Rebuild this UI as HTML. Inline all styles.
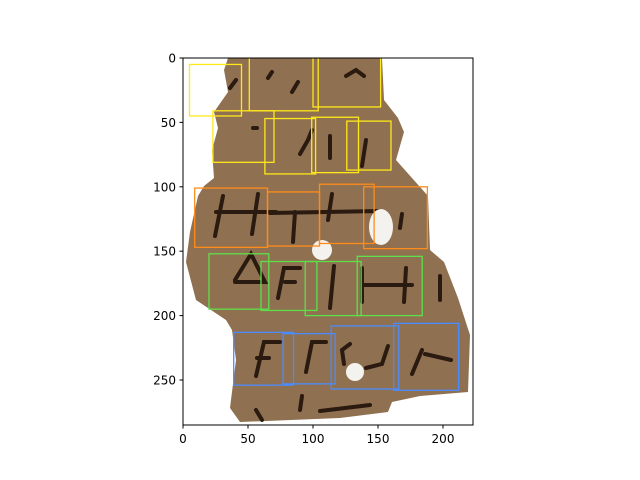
<!DOCTYPE html>
<html><head><meta charset="utf-8">
<style>
html,body{margin:0;padding:0;background:#fff;}
svg{display:block;font-family:"DejaVu Sans","Liberation Sans",sans-serif;}
</style></head>
<body>
<svg id="chart" width="640" height="480" viewBox="0 0 640 480">
<defs><clipPath id="plotclip"><rect x="183" y="58" width="290" height="367"/></clipPath></defs>
<g id="img" clip-path="url(#plotclip)">
<polygon fill="#8f7050" points="228,58 382,58 384,100 398,118 404,132 396,160 412,178 428,196 430,250 444,262 458,298 470,335 468,392 420,396 392,402 388,412 340,418 240,422 230,408 236,360 232,330 226,320 196,300 186,262 190,232 198,196 204,186 214,178 212,150 218,128 214,112 228,92 224,70"/>
<g fill="none" stroke="#2a1a10" stroke-linecap="round" stroke-width="4">
<path d="M230,88 l6,-8 M268,78 l4,-6 M292,92 l6,-10 M346,76 l10,-6 l8,6 M253,128 l4,0 M300,154 l8,-14 l4,-10 M330,158 l0,-22 M362,166 l4,-26 M215,236 l8,-40 M216,212 l60,0 M252,234 l6,-40 M270,213 l110,-2 M293,242 l2,-30 M328,220 l4,-26 M400,228 l2,-14 M235,280 l16,-26 l14,28 l-30,0 M278,298 l6,-30 l16,0 M285,282 l10,0 M330,308 l4,-42 M362,302 l0,-34 M404,302 l2,-34 M362,285 l50,0 M440,300 l0,-24 M256,376 l8,-34 l16,0 M257,358 l12,0 M306,372 l6,-30 l14,0 M344,364 l-2,-14 l8,-6 M366,368 l16,-4 l6,-18 M412,374 l10,-24 M425,354 l26,6 M262,420 l-6,-10 M300,410 l2,-14 M320,411 l50,-6"/>
</g>
<circle cx="322" cy="250" r="10" fill="#f4f2ee"/>
<ellipse cx="381" cy="227" rx="12" ry="18" fill="#f4f2ee"/>
<circle cx="355" cy="372" r="9" fill="#f4f2ee"/>
</g>
<g id="boxes" clip-path="url(#plotclip)"></g>
<rect x="183" y="58" width="290" height="367" fill="none" stroke="#000" stroke-width="1"/>
<g id="xaxis"></g>
<g id="yaxis"></g>
</svg>
<script>
const xTicks=[0,50,100,150,200];
const yTicks=[0,50,100,150,200,250];
const yellowBoxes=[[5,45,5,45],[51,104,-5,41],[100,152,-5,38],[23,70,41,81],[63,102,47,90],[99,135,46,89],[126,160,49,87]];
const orangeBoxes=[[9,65,101,147],[65,105,104,146],[105,147,98,144],[139,188,100,148]];
const greenBoxes=[[20,66,152,195],[60,103,158,196],[94,137,158,200],[134,184,154,200]];
const blueBoxes=[[39,85,213,254],[77,117,214,253],[114,166,208,257],[162,212,206,258]];
const X0=183,XS=1.3,Y0=58,YS=1.288;
function sx(v){return X0+v*XS;}
function sy(v){return Y0+v*YS;}
const NS="http://www.w3.org/2000/svg";
function mk(t,a){const e=document.createElementNS(NS,t);for(const k in a)e.setAttribute(k,a[k]);return e;}
const bg=document.getElementById('boxes');
function drawBoxes(arr,color,name){
 arr.forEach((b,i)=>{
  const r=mk('rect',{x:sx(b[0]),y:sy(b[2]),width:(b[1]-b[0])*XS,height:(b[3]-b[2])*YS,fill:'none',stroke:color,'stroke-width':1.3});
  
  
  bg.appendChild(r);
 });
}
drawBoxes(yellowBoxes,'#ffe81a','yellow');
drawBoxes(orangeBoxes,'#ff8c1a','orange');
drawBoxes(greenBoxes,'#5ee04a','green');
drawBoxes(blueBoxes,'#4a8cff','blue');
const xa=document.getElementById('xaxis');
xTicks.forEach(v=>{
 const l=mk('line',{x1:sx(v),x2:sx(v),y1:425,y2:428.5,stroke:'#000'});
 
 
 xa.appendChild(l);
 const t=mk('text',{x:sx(v),y:443,'text-anchor':'middle','font-size':12});
 
 
 t.textContent=v;xa.appendChild(t);
});
const ya=document.getElementById('yaxis');
yTicks.forEach(v=>{
 const l=mk('line',{x1:179.5,x2:183,y1:sy(v),y2:sy(v),stroke:'#000'});
 
 
 ya.appendChild(l);
 const t=mk('text',{x:176,y:sy(v)+4.5,'text-anchor':'end','font-size':12});
 
 
 t.textContent=v;ya.appendChild(t);
});
</script>
</body></html>
